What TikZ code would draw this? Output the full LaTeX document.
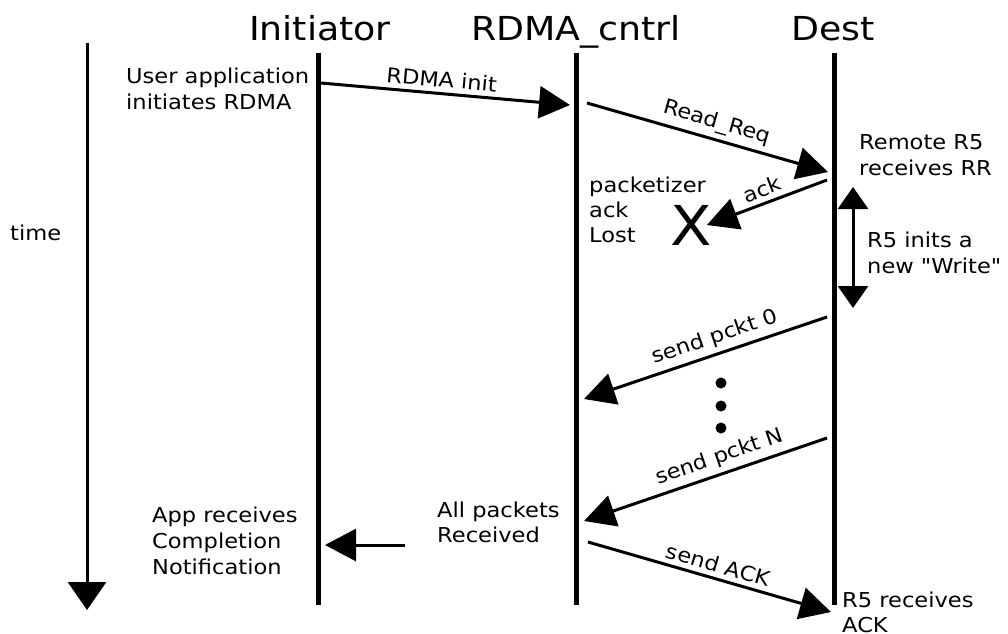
\documentclass[tikz,border=0pt]{standalone}
\usepackage{fontspec}
\setmainfont{DejaVu Sans}[FakeStretch=1.1, Ligatures=TeXOff]
\usetikzlibrary{arrows.meta}

\begin{document}
\begin{tikzpicture}[x=1pt, y=-1pt,
  lifeline/.style={line width=5pt},
  msg/.style={line width=3pt, -{Triangle[length=31pt,width=32pt]}},
  headtitle/.style={font=\fontsize{33}{40}\selectfont, anchor=base, inner sep=0pt},
  note/.style={font=\fontsize{20.5}{26}\selectfont, align=left, anchor=base west, inner sep=0pt},
  msglabel/.style={font=\fontsize{20.5}{25}\selectfont, sloped, above=3pt, inner sep=2pt}
]
\useasboundingbox (0,0) rectangle (1008,633);

% participants
\node[headtitle] (ini) at (320,40) {Initiator};
\node[headtitle] (ctl) at (576,40) {RDMA\_cntrl};
\node[headtitle] (dst) at (833,40) {Dest};

\coordinate (iniTop) at (318,53);  \coordinate (iniBot) at (318,605);
\coordinate (ctlTop) at (576,53);  \coordinate (ctlBot) at (576,605);
\coordinate (dstTop) at (834,53);  \coordinate (dstBot) at (834,605);
\draw[lifeline] (iniTop) -- (iniBot);
\draw[lifeline] (ctlTop) -- (ctlBot);
\draw[lifeline] (dstTop) -- (dstBot);

% time axis
\coordinate (tTop) at (87,43);
\coordinate (tBot) at (87,610);
\draw[line width=3pt, -{Triangle[length=28pt,width=38pt]}] (tTop) -- (tBot);
\node[note] (time) at (10,240) {time};

% notes (the base anchor sits on the last line)
\node[note] (user) at (126,109) {User application\\initiates RDMA};
\node[note] (rrecv) at (859,175) {Remote R5\\receives RR};
\node[note, font=\fontsize{20.5}{25}\selectfont] (pktz) at (589,242) {packetizer\\ack\\Lost};
\node[note] (winit) at (867,273) {R5 inits a\\new "Write"};
\node[note] (app) at (152,574) {App receives\\Completion\\Notification};
\node[note, font=\fontsize{20.5}{25}\selectfont] (allp) at (437,542) {All packets\\Received};
\node[note, font=\fontsize{20.5}{25}\selectfont] (ackr) at (842,632) {R5 receives\\ACK};

% lost acknowledgement mark
\node[font=\fontsize{55}{60}\selectfont, inner sep=0pt] (lost) at (691,225) {X};

% message end points
\coordinate (m1s) at (321,83);  \coordinate (m1e) at (570,105);
\coordinate (m2s) at (587,103); \coordinate (m2e) at (828,172);
\coordinate (m3s) at (827,180); \coordinate (m3e) at ([xshift=-5pt]lost.east);
\coordinate (m4s) at (827,317); \coordinate (m4e) at (584,399);
\coordinate (m5s) at (827,438); \coordinate (m5e) at (584,521);
\coordinate (m6s) at (588,542); \coordinate (m6e) at (831,612);
\coordinate (m7s) at (405,545); \coordinate (m7e) at (325,545);
\coordinate (wTop) at (853,187); \coordinate (wBot) at (853,308);

% messages
\draw[msg] (m1s) -- node[msglabel, pos=0.48] {RDMA init} (m1e);
\draw[msg] (m2s) -- node[msglabel, pos=0.52] {Read\_Req} (m2e);
\draw[msg] (m3s) -- node[msglabel, pos=0.5] {ack} (m3e);
\draw[msg] (m4s) -- node[msglabel, pos=0.44] {send pckt 0} (m4e);
\draw[msg] (m5s) -- node[msglabel, pos=0.42] {send pckt N} (m5e);
\draw[msg] (m6s) -- node[msglabel, pos=0.52] {send ACK} (m6e);
\draw[msg] (m7s) -- (m7e);

% duration of the new write
\draw[line width=3pt, {Triangle[length=22pt,width=30pt]}-{Triangle[length=22pt,width=30pt]}] (wTop) -- (wBot);

% continuation dots
\fill (721,383) circle (5.5);
\fill (721,406) circle (5.5);
\fill (721,428) circle (5.5);
\end{tikzpicture}
\end{document}
